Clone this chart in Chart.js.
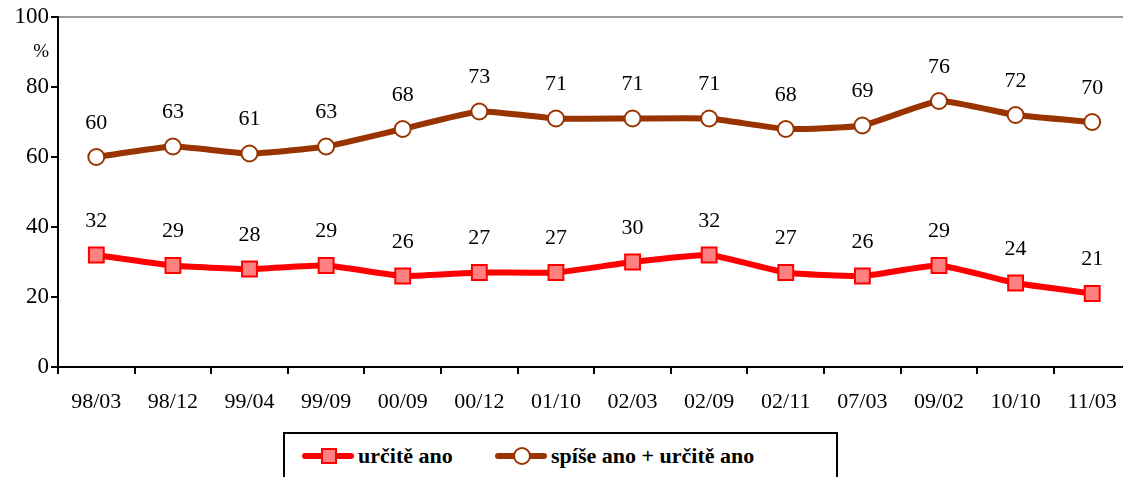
<!DOCTYPE html>
<html>
<head>
<meta charset="utf-8">
<script src="https://cdn.jsdelivr.net/npm/chart.js@4/dist/chart.umd.min.js"></script>
<style>
  html, body { margin: 0; padding: 0; background: #fff; overflow: hidden; }
  #wrap { position: relative; width: 1123px; height: 477px; overflow: hidden; }
  #chart { position: absolute; left: 0; top: 0; }
  .legend {
    position: absolute; left: 283px; top: 432px; width: 551px; height: 50px;
    border: 2px solid #000; font-family: "Liberation Serif", serif; font-weight: bold; font-size: 22px;
  }
  .item { position: absolute; top: 9px; height: 26px; line-height: 26px; }
  .mark { position: absolute; top: 10px; width: 52px; height: 6px; border-radius: 3px; }
  .item span { position: absolute; white-space: nowrap; }
  .sq { position: absolute; left: 19px; top: -5px; width: 12px; height: 12px; background: #ff8080; border: 2px solid #ff0000; box-sizing: content-box; }
  .ci { position: absolute; left: 18px; top: -6px; width: 14px; height: 14px; background: #fff; border: 2px solid #993300; border-radius: 50%; }
</style>
</head>
<body>
<div id="wrap">
  <canvas id="chart" width="1143" height="420"></canvas>
  <div class="legend">
    <div class="item" style="left:17px">
      <div class="mark" style="left:0;background:#ff0000"><div class="sq"></div></div>
      <span style="left:56px">určitě ano</span>
    </div>
    <div class="item" style="left:210px">
      <div class="mark" style="left:0;background:#993300"><div class="ci"></div></div>
      <span style="left:56px">spíše ano + určitě ano</span>
    </div>
  </div>
</div>
<script>
const categories = ['98/03', '98/12', '99/04', '99/09', '00/09', '00/12', '01/10', '02/03', '02/09', '02/11', '07/03', '09/02', '10/10', '11/03'];
const urciteAno = [32, 29, 28, 29, 26, 27, 27, 30, 32, 27, 26, 29, 24, 21];
const spiseUrciteAno = [60, 63, 61, 63, 68, 73, 71, 71, 71, 68, 69, 76, 72, 70];
const yLabels = { 0: '0', 20: '20', 40: '40', 60: '60', 80: '80', 90: '%', 100: '100' };

// numbers above the points
const valueLabels = {
  id: 'valueLabels',
  afterDatasetsDraw(chart) {
    const ctx = chart.ctx;
    ctx.save();
    ctx.font = '22px "Liberation Serif", serif';
    ctx.fillStyle = '#000';
    ctx.textAlign = 'center';
    ctx.textBaseline = 'middle';
    chart.data.datasets.forEach((ds, i) => {
      chart.getDatasetMeta(i).data.forEach((pt, j) => {
        ctx.fillText(ds.data[j], pt.x, pt.y - 34);
      });
    });
    ctx.restore();
  }
};

new Chart(document.getElementById('chart'), {
  type: 'line',
  data: {
    labels: categories,
    datasets: [
      {
        label: 'určitě ano',
        data: urciteAno,
        borderColor: '#ff0000',
        borderWidth: 6,
        pointStyle: 'rect',
        pointRadius: 10.5,
        pointBackgroundColor: '#ff8080',
        pointBorderColor: '#ff0000',
        pointBorderWidth: 2,
        tension: 0.15
      },
      {
        label: 'spíše ano + určitě ano',
        data: spiseUrciteAno,
        borderColor: '#993300',
        borderWidth: 6,
        pointStyle: 'circle',
        pointRadius: 8,
        pointBackgroundColor: '#ffffff',
        pointBorderColor: '#993300',
        pointBorderWidth: 2,
        tension: 0.15
      }
    ]
  },
  options: {
    responsive: false,
    animation: false,
    layout: { padding: { top: 17, left: 0, right: 0, bottom: 0 } },
    plugins: { legend: { display: false }, tooltip: { enabled: false } },
    scales: {
      x: {
        offset: true,
        afterFit: (s) => { s.height = 53; },
        border: { color: '#000', width: 2 },
        grid: { offset: true, drawOnChartArea: false, tickColor: '#000', tickLength: 7, lineWidth: 2 },
        ticks: { color: '#000', padding: 15, maxRotation: 0, font: { family: '"Liberation Serif", serif', size: 22 } }
      },
      y: {
        min: 0,
        max: 100,
        afterFit: (s) => { s.width = 58; },
        border: { color: '#000', width: 2 },
        grid: {
          lineWidth: 2,
          tickLength: 7,
          color: (c) => (c.tick && c.tick.value === 100 ? '#999999' : 'rgba(0,0,0,0)'),
          tickColor: (c) => (c.tick && c.tick.value % 20 === 0 ? '#000' : 'rgba(0,0,0,0)')
        },
        ticks: {
          stepSize: 10,
          color: '#000',
          padding: 2,
          font: (c) => ({ family: '"Liberation Serif", serif', size: c.tick && c.tick.value === 90 ? 19 : 23 }),
          callback: (v) => (yLabels[v] !== undefined ? yLabels[v] : '')
        }
      }
    }
  },
  plugins: [valueLabels]
});
</script>
</body>
</html>
